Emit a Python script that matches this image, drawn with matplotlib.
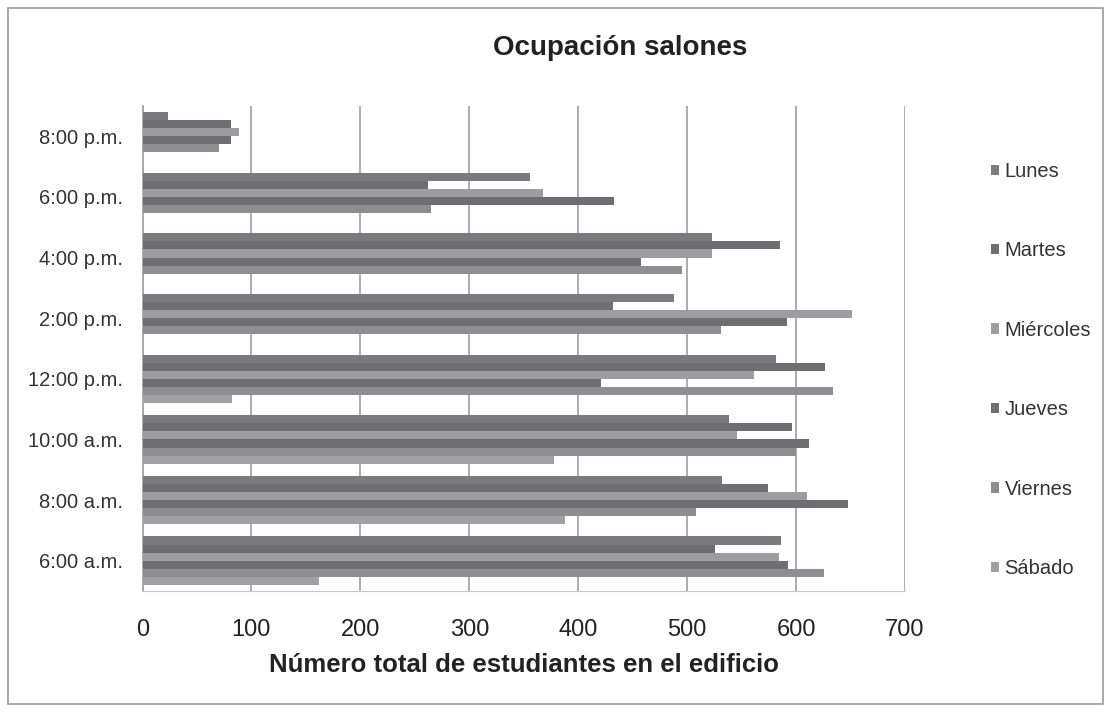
import numpy as np
import matplotlib.pyplot as plt
from matplotlib.patches import Rectangle

plt.rcParams['font.family'] = ['Liberation Sans', 'DejaVu Sans']

horas = ["6:00 a.m.", "8:00 a.m.", "10:00 a.m.", "12:00 p.m.",
         "2:00 p.m.", "4:00 p.m.", "6:00 p.m.", "8:00 p.m."]

# values per day, same order as horas (bottom to top)
lunes     = [586, 532, 538, 582, 488, 523, 356, 23]
martes    = [526, 574, 596, 627, 432, 585, 262, 81]
miercoles = [584, 610, 546, 561, 651, 523, 368, 89]
jueves    = [593, 648, 612, 421, 592, 458, 433, 81]
viernes   = [626, 508, 600, 634, 531, 495, 265, 70]
sabado    = [162, 388, 378, 82, 0, 0, 0, 0]

dias = ["Lunes", "Martes", "Miércoles", "Jueves", "Viernes", "Sábado"]
series = [lunes, martes, miercoles, jueves, viernes, sabado]
colores = ["#7b7b7f", "#6f6f73", "#9d9da1", "#6f6f73", "#8e8e92", "#a0a0a4"]

W, H = 1104, 712
fig = plt.figure(figsize=(W / 100, H / 100), dpi=100)
ax = fig.add_axes([142.5 / W, 1 - 591 / H, (905 - 142.5) / W, (591 - 106) / H])

y = np.arange(len(horas))
h = 0.8 / len(series)
for i, (vals, dia, c) in enumerate(zip(series, dias, colores)):
    # first day on top of each group
    off = 0.4 - h / 2 - i * h
    ax.barh(y + off, vals, height=h, color=c, label=dia, zorder=3)

ax.set_xlim(0, 700)
ax.set_ylim(-0.5, len(horas) - 0.5)
ax.set_xticks(range(0, 701, 100))
ax.set_yticks(y)
ax.set_yticklabels(horas)
ax.tick_params(axis='x', length=0, labelsize=17, pad=20, colors='#222222')
ax.tick_params(axis='y', length=0, labelsize=14.5, pad=14, colors='#333333')
ax.grid(axis='x', color='#a6a6a6', linewidth=1.3, zorder=0)

for s in ['top', 'right']:
    ax.spines[s].set_visible(False)
ax.spines['left'].set_color('#a6a6a6')
ax.spines['bottom'].set_color('#c8c8c8')
ax.spines['left'].set_linewidth(1.3)

ax.set_xlabel("Número total de estudiantes en el edificio", fontsize=18.5,
              fontweight='bold', labelpad=9, color='#222222')
fig.text(620 / W, 1 - 48 / H, "Ocupación salones", fontsize=20,
         fontweight='bold', ha='center', va='center', color='#222222')

leg = ax.legend(loc='upper left', bbox_to_anchor=(991 / W, 1 - 162 / H),
                bbox_transform=fig.transFigure, frameon=False, fontsize=14.5,
                handlelength=0.42, handleheight=0.42, handletextpad=0.25,
                labelspacing=3.0, borderaxespad=0, borderpad=0)
for t in leg.get_texts():
    t.set_color('#333333')

fig.patches.append(Rectangle((8 / W, 8 / H), (1103 - 8) / W, (704 - 8) / H,
                             transform=fig.transFigure, fill=False,
                             edgecolor='#9a9a9a', linewidth=1.2))

fig.savefig("out.png", dpi=100)
